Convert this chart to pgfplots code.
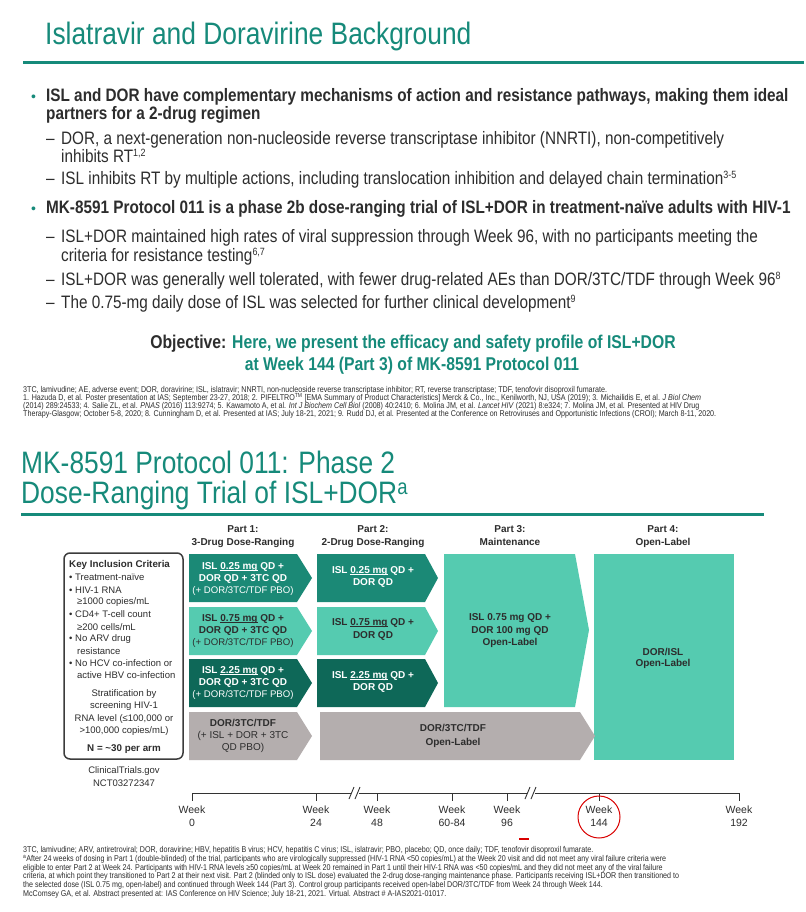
\documentclass[border=0pt]{standalone}
\usepackage{pgfplots}
\pgfplotsset{compat=1.18}
\usepackage{fontspec}
\setmainfont{Liberation Sans}
\newfontfamily\nar{Liberation Sans}[FakeStretch=0.85]
\newcommand{\fs}[1]{\fontsize{#1bp}{#1bp}\selectfont}
\newcommand{\ud}[1]{\setbox0\hbox{#1}\rlap{\rule[-1.6bp]{\wd0}{0.7bp}}\box0{}}
\newcommand{\sups}[1]{\raisebox{6bp}{\fs{10.5}#1}}
\definecolor{tl}{RGB}{22,138,122}
\definecolor{dk}{RGB}{45,45,45}
\definecolor{ca}{RGB}{27,137,118}
\definecolor{cb}{RGB}{85,203,176}
\definecolor{cc}{RGB}{14,104,88}
\definecolor{gr}{RGB}{180,174,174}
\definecolor{kb}{RGB}{60,60,60}
\begin{document}
\begin{tikzpicture}
\begin{axis}[width=804bp,height=912bp,scale only axis,xmin=0,xmax=804,ymin=0,ymax=912,
  y dir=reverse,hide axis,clip=false]
\addplot[draw=none,fill=white] coordinates {(0,0)(804,0)(804,912)(0,912)} -- cycle;
% ---------- Slide 1 ----------
\node[anchor=base west,inner sep=0,text=tl,font=\nar\fs{31}] at (axis cs:45,45) {Islatravir and Doravirine Background};
\addplot[tl,line width=3bp] coordinates {(23,63)(804,63)};
\begin{scope}[every node/.style={anchor=base west,inner sep=0,text=dk}]
\node[text=tl,font=\fs{14}] at (axis cs:31,102) {•};
\node[font=\nar\bfseries\fs{18}] at (axis cs:46,102) {ISL and DOR have complementary mechanisms of action and resistance pathways, making them ideal};
\node[font=\nar\bfseries\fs{18}] at (axis cs:46,120) {partners for a 2-drug regimen};
\node[font=\nar\fs{18}] at (axis cs:46,145) {–};
\node[font=\nar\fs{18}] at (axis cs:61,145) {DOR, a next-generation non-nucleoside reverse transcriptase inhibitor (NNRTI), non-competitively};
\node[font=\nar\fs{18}] at (axis cs:61,163) {inhibits RT\sups{1,2}};
\node[font=\nar\fs{18}] at (axis cs:46,185) {–};
\node[font=\nar\fs{18}] at (axis cs:61,185) {ISL inhibits RT by multiple actions, including translocation inhibition and delayed chain termination\sups{3-5}};
\node[text=tl,font=\fs{14}] at (axis cs:31,213) {•};
\node[font=\nar\bfseries\fs{18}] at (axis cs:46,213) {MK-8591 Protocol 011 is a phase 2b dose-ranging trial of ISL+DOR in treatment-naïve adults with HIV-1};
\node[font=\nar\fs{18}] at (axis cs:46,242) {–};
\node[font=\nar\fs{18}] at (axis cs:61,242) {ISL+DOR maintained high rates of viral suppression through Week 96, with no participants meeting the};
\node[font=\nar\fs{18}] at (axis cs:61,261) {criteria for resistance testing\sups{6,7}};
\node[font=\nar\fs{18}] at (axis cs:46,285) {–};
\node[font=\nar\fs{18}] at (axis cs:61,285) {ISL+DOR was generally well tolerated, with fewer drug-related AEs than DOR/3TC/TDF through Week 96\sups{8}};
\node[font=\nar\fs{18}] at (axis cs:46,308) {–};
\node[font=\nar\fs{18}] at (axis cs:61,308) {The 0.75-mg daily dose of ISL was selected for further clinical development\sups{9}};
\end{scope}
\node[anchor=base,inner sep=0,font=\nar\bfseries\fs{18.5}] at (axis cs:413,348) {\textcolor{dk}{Objective:} \textcolor{tl}{Here, we present the efficacy and safety profile of ISL+DOR}};
\node[anchor=base,inner sep=0,font=\nar\bfseries\fs{18.5},text=tl] at (axis cs:412,370) {at Week 144 (Part 3) of MK-8591 Protocol 011};
\begin{scope}[every node/.style={anchor=base west,inner sep=0,text=dk,font=\nar\fs{8.4}}]
\node at (axis cs:23,392) {3TC, lamivudine; AE, adverse event; DOR, doravirine; ISL, islatravir; NNRTI, non-nucleoside reverse transcriptase inhibitor; RT, reverse transcriptase; TDF, tenofovir disoproxil fumarate.};
\node at (axis cs:23,400) {1. Hazuda D, et al. Poster presentation at IAS; September 23-27, 2018; 2. PIFELTRO\textsuperscript{TM} [EMA Summary of Product Characteristics] Merck \& Co., Inc., Kenilworth, NJ, USA (2019); 3. Michailidis E, et al. \textit{J Biol Chem}};
\node at (axis cs:23,408) {(2014) 289:24533; 4. Salie ZL, et al. \textit{PNAS} (2016) 113:9274; 5. Kawamoto A, et al. \textit{Int J Biochem Cell Biol} (2008) 40:2410; 6. Molina JM, et al. \textit{Lancet HIV} (2021) 8:e324; 7. Molina JM, et al. Presented at HIV Drug};
\node at (axis cs:23,416) {Therapy-Glasgow; October 5-8, 2020; 8. Cunningham D, et al. Presented at IAS; July 18-21, 2021; 9. Rudd DJ, et al. Presented at the Conference on Retroviruses and Opportunistic Infections (CROI); March 8-11, 2020.};
\end{scope}
% ---------- Slide 2 ----------
\node[anchor=base west,inner sep=0,text=tl,font=\nar\fs{31}] at (axis cs:21,473) {MK-8591 Protocol 011: Phase 2};
\node[anchor=base west,inner sep=0,text=tl,font=\nar\fs{31}] at (axis cs:21,503) {Dose-Ranging Trial of ISL+DOR\textsuperscript{a}};
\addplot[tl,line width=3bp] coordinates {(21,514)(764,514)};
% part headers
\begin{scope}[every node/.style={anchor=base,inner sep=0,text=dk,font=\bfseries\fs{10}}]
\node at (axis cs:243,532) {Part 1:}; \node at (axis cs:243,545) {3-Drug Dose-Ranging};
\node at (axis cs:373,532) {Part 2:}; \node at (axis cs:373,545) {2-Drug Dose-Ranging};
\node at (axis cs:510,532) {Part 3:}; \node at (axis cs:510,545) {Maintenance};
\node at (axis cs:663,532) {Part 4:}; \node at (axis cs:663,545) {Open-Label};
\end{scope}
% boxes
\addplot[draw=none,fill=ca] coordinates {(189,554)(297,554)(312,578)(297,602)(189,602)} -- cycle;
\addplot[draw=none,fill=cb] coordinates {(189,607)(297,607)(312,631)(297,655)(189,655)} -- cycle;
\addplot[draw=none,fill=cc] coordinates {(189,659)(297,659)(312,683)(297,707)(189,707)} -- cycle;
\addplot[draw=none,fill=gr] coordinates {(189,712)(297,712)(312,736)(297,760)(189,760)} -- cycle;
\addplot[draw=none,fill=ca] coordinates {(317,554)(425,554)(438,578)(425,602)(317,602)} -- cycle;
\addplot[draw=none,fill=cb] coordinates {(317,607)(425,607)(438,631)(425,655)(317,655)} -- cycle;
\addplot[draw=none,fill=cc] coordinates {(317,659)(425,659)(438,683)(425,707)(317,707)} -- cycle;
\addplot[draw=none,fill=cb] coordinates {(444,554)(575,554)(589,630)(575,707)(444,707)} -- cycle;
\addplot[draw=none,fill=cb] coordinates {(594,554)(734,554)(734,760)(594,760)} -- cycle;
\addplot[draw=none,fill=gr] coordinates {(320,712)(580,712)(595,736)(580,760)(320,760)} -- cycle;
% key box
\addplot[kb,line width=1.5bp,rounded corners=6bp] coordinates {(64,553)(183,553)(183,759)(64,759)} -- cycle;
% box texts
\begin{scope}[every node/.style={anchor=center,inner sep=0,font=\bfseries\fs{10}}]
\node[text=white] at (axis cs:243,567) {ISL \ud{0.25 mg} QD +};
\node[text=white] at (axis cs:243,579) {DOR QD + 3TC QD};
\node[text=white,font=\fs{9.6}] at (axis cs:243,591) {(+ DOR/3TC/TDF PBO)};
\node[text=dk] at (axis cs:243,619) {ISL \ud{0.75 mg} QD +};
\node[text=dk] at (axis cs:243,631) {DOR QD + 3TC QD};
\node[text=dk,font=\fs{9.6}] at (axis cs:243,643) {(+ DOR/3TC/TDF PBO)};
\node[text=white] at (axis cs:243,671) {ISL \ud{2.25 mg} QD +};
\node[text=white] at (axis cs:243,683) {DOR QD + 3TC QD};
\node[text=white,font=\fs{9.6}] at (axis cs:243,695) {(+ DOR/3TC/TDF PBO)};
\node[text=dk] at (axis cs:243,723) {DOR/3TC/TDF};
\node[text=dk,font=\fs{10}] at (axis cs:243,736) {(+ ISL + DOR + 3TC};
\node[text=dk,font=\fs{10}] at (axis cs:243,748) {QD PBO)};
\node[text=white] at (axis cs:373,571) {ISL \ud{0.25 mg} QD +};
\node[text=white] at (axis cs:373,583) {DOR QD};
\node[text=dk] at (axis cs:373,623) {ISL \ud{0.75 mg} QD +};
\node[text=dk] at (axis cs:373,636) {DOR QD};
\node[text=white] at (axis cs:373,676) {ISL \ud{2.25 mg} QD +};
\node[text=white] at (axis cs:373,688) {DOR QD};
\node[text=dk] at (axis cs:510,618) {ISL 0.75 mg QD +};
\node[text=dk] at (axis cs:510,631) {DOR 100 mg QD};
\node[text=dk] at (axis cs:510,643) {Open-Label};
\node[text=dk] at (axis cs:663,652) {DOR/ISL};
\node[text=dk] at (axis cs:663,664) {Open-Label};
\node[text=dk] at (axis cs:453,728) {DOR/3TC/TDF};
\node[text=dk] at (axis cs:453,743) {Open-Label};
\end{scope}
% key inclusion text
\begin{scope}[every node/.style={anchor=west,inner sep=0,text=dk,font=\fs{9.5}}]
\node[font=\bfseries\fs{9.8}] at (axis cs:69,565) {Key Inclusion Criteria};
\node at (axis cs:69,577) {• Treatment-naïve};
\node at (axis cs:69,590) {• HIV-1 RNA};
\node at (axis cs:77,602) {≥1000 copies/mL};
\node at (axis cs:69,614) {• CD4+ T-cell count};
\node at (axis cs:77,627) {≥200 cells/mL};
\node at (axis cs:69,639) {• No ARV drug};
\node at (axis cs:77,651) {resistance};
\node at (axis cs:69,663) {• No HCV co-infection or};
\node at (axis cs:77,675) {active HBV co-infection};
\end{scope}
\begin{scope}[every node/.style={anchor=center,inner sep=0,text=dk,font=\fs{9.5}}]
\node at (axis cs:124,694) {Stratification by};
\node at (axis cs:124,706) {screening HIV-1};
\node at (axis cs:124,719) {RNA level (≤100,000 or};
\node at (axis cs:124,731) {>100,000 copies/mL)};
\node[font=\bfseries\fs{9.8}] at (axis cs:124,749) {N = \textasciitilde 30 per arm};
\node at (axis cs:124,771) {ClinicalTrials.gov};
\node at (axis cs:124,783) {NCT03272347};
\end{scope}
% timeline
\addplot[black!80,line width=1bp] coordinates {(192,793)(739,793)};
\addplot[black!80,line width=1bp,unbounded coords=jump] coordinates {
(192,793)(192,801)(192,nan)
(316,793)(316,801)(316,nan)
(377,793)(377,801)(377,nan)
(452,793)(452,801)(452,nan)
(507,793)(507,801)(507,nan)
(599,793)(599,801)(599,nan)
(739,793)(739,801)};
\addplot[draw=none,fill=white] coordinates {(351,790)(359,790)(359,796)(351,796)} -- cycle;
\addplot[draw=none,fill=white] coordinates {(527,790)(535,790)(535,796)(527,796)} -- cycle;
\addplot[black!80,line width=0.9bp,unbounded coords=jump] coordinates {(349,799)(354,787)(354,nan)(355,799)(360,787)(360,nan)(525,799)(530,787)(530,nan)(531,799)(536,787)};
\begin{scope}[every node/.style={anchor=center,inner sep=0,text=dk,font=\fs{10.5}}]
\node at (axis cs:192,810) {Week}; \node at (axis cs:192,823) {0};
\node at (axis cs:316,810) {Week}; \node at (axis cs:316,823) {24};
\node at (axis cs:377,810) {Week}; \node at (axis cs:377,823) {48};
\node at (axis cs:452,810) {Week}; \node at (axis cs:452,823) {60-84};
\node at (axis cs:507,810) {Week}; \node at (axis cs:507,823) {96};
\node at (axis cs:599,810) {Week}; \node at (axis cs:599,823) {144};
\node at (axis cs:739,810) {Week}; \node at (axis cs:739,823) {192};
\end{scope}
\addplot[only marks,mark=o,mark size=21bp,mark options={red!85!black,line width=1bp}] coordinates {(599,817)};
\addplot[red!85!black,line width=1.5bp] coordinates {(519,839)(529,839)};
% bottom footnotes
\begin{scope}[every node/.style={anchor=base west,inner sep=0,text=dk,font=\nar\fs{8.4}}]
\node at (axis cs:23,852) {3TC, lamivudine; ARV, antiretroviral; DOR, doravirine; HBV, hepatitis B virus; HCV, hepatitis C virus; ISL, islatravir; PBO, placebo; QD, once daily; TDF, tenofovir disoproxil fumarate.};
\node at (axis cs:23,861) {\textsuperscript{a}After 24 weeks of dosing in Part 1 (double-blinded) of the trial, participants who are virologically suppressed (HIV-1 RNA <50 copies/mL) at the Week 20 visit and did not meet any viral failure criteria were};
\node at (axis cs:23,870) {eligible to enter Part 2 at Week 24. Participants with HIV-1 RNA levels ≥50 copies/mL at Week 20 remained in Part 1 until their HIV-1 RNA was <50 copies/mL and they did not meet any of the viral failure};
\node at (axis cs:23,878) {criteria, at which point they transitioned to Part 2 at their next visit. Part 2 (blinded only to ISL dose) evaluated the 2-drug dose-ranging maintenance phase. Participants receiving ISL+DOR then transitioned to};
\node at (axis cs:23,887) {the selected dose (ISL 0.75 mg, open-label) and continued through Week 144 (Part 3). Control group participants received open-label DOR/3TC/TDF from Week 24 through Week 144.};
\node at (axis cs:23,896) {McComsey GA, et al. Abstract presented at: IAS Conference on HIV Science; July 18-21, 2021. Virtual. Abstract \# A-IAS2021-01017.};
\end{scope}
\end{axis}
\end{tikzpicture}
\end{document}
